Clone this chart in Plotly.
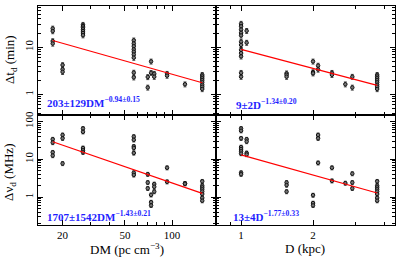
import plotly.graph_objects as go

# ---------------- data ----------------
# Delta t_d (min) versus DM (pc cm^-3)
dm_t_x = [17.3]*4 + [20]*3 + [27]*7 + [57]*9 + [70]*2 + [73.5]*2 + [77]*2 + [93]*2 + [121] + [156]*8
dm_t_y = [25, 22, 13.5, 12,
          4.2, 3.4, 3.0,
          30, 28, 26, 24, 22, 20, 18,
          14, 12, 10.5, 9, 8, 7, 6, 2.9, 2.3,
          2.34, 1.4,
          5.0, 2.87,
          2.74, 2.37,
          2.74, 2.5,
          1.64,
          2.6, 2.4, 2.2, 2.0, 1.8, 1.6, 1.45, 1.3]

# Delta nu_d (MHz) versus DM
dm_nu_x = [17.3]*4 + [20]*3 + [27]*5 + [57]*7 + [70]*3 + [73.5]*3 + [77]*3 + [93]*2 + [121]*2 + [156]*8
dm_nu_y = [33.7, 27.6, 15.2, 12.5,
           43.8, 35.7, 7.7,
           65, 53, 19.8, 17.2, 15.2,
           39.6, 32.5, 21.8, 19.8, 14.6, 4.4, 3.84,
           4.0, 2.42, 1.69,
           1.14, 0.73, 0.60,
           2.2, 1.87, 1.39,
           5.95, 2.53,
           2.28, 2.25,
           2.6, 2.0, 1.8, 1.6, 1.4, 1.2, 0.95, 0.8]

# Delta t_d (min) versus D (kpc)
d_t_x = [1.0]*12 + [1.055]*2 + [1.55]*3 + [2.0]*3 + [2.1]*2 + [2.4]*2 + [2.73] + [2.92]*2 + [3.71]*8
d_t_y = [31.6, 27.8, 23.7, 20.2, 17.8, 13.1, 11.2, 8.8, 7.5, 6.4, 2.87, 2.37,
         22.3, 12.5,
         2.8, 2.6, 2.37,
         5.0, 2.97, 2.8,
         4.08, 3.37,
         2.87, 2.6,
         1.64,
         2.37, 1.4,
         2.6, 2.4, 2.2, 2.0, 1.8, 1.6, 1.45, 1.3]

# Delta nu_d (MHz) versus D
d_nu_x = [1.0]*9 + [1.055]*4 + [1.55]*3 + [2.0]*3 + [2.1]*3 + [2.4]*2 + [2.73] + [2.92]*3 + [3.71]*8
d_nu_y = [65, 56.6, 35.7, 20.9, 18.5, 16.2, 14.1, 4.4, 4.0,
          33.7, 29.3, 14.6, 13.3,
          2.42, 2.07, 1.39,
          1.12, 0.69, 0.60,
          43.8, 35.7, 8.0,
          5.95, 2.68,
          2.33,
          4.15, 2.42, 1.69,
          2.6, 2.0, 1.8, 1.6, 1.4, 1.2, 0.95, 0.8]

# power-law fits: amplitude, exponent
fit_dm_t = (203, -0.94)
fit_dm_nu = (1707, -1.43)
fit_d_t = (9, -1.34)
fit_d_nu = (13, -1.77)

fit_labels = ["203±129DM<sup>−0.94±0.15</sup>", "9±2D<sup>−1.34±0.20</sup>",
              "1707±1542DM<sup>−1.43±0.21</sup>", "13±4D<sup>−1.77±0.33</sup>"]

# ---------------- figure ----------------
W, H = 399, 259
L, R, T, B = 38, 4, 2, 34
PW, PH = W - L - R, H - T - B
xsplit = (216 - L) / PW
ysplit = (225 - 113) / PH

def px(x):
    return (x - L) / PW

def py(y):
    return (H - B - y) / PH

fig = go.Figure()

panels = [
    (dm_t_x, dm_t_y, fit_dm_t, "x", "y"),
    (d_t_x, d_t_y, fit_d_t, "x2", "y2"),
    (dm_nu_x, dm_nu_y, fit_dm_nu, "x3", "y3"),
    (d_nu_x, d_nu_y, fit_d_nu, "x4", "y4"),
]
for xs, ys, (a, b), xa, ya in panels:
    fig.add_trace(go.Scatter(
        x=xs, y=ys, mode="markers", xaxis=xa, yaxis=ya,
        marker=dict(symbol="circle", size=3.5, color="#777777",
                    line=dict(color="#111111", width=1)),
        error_y=dict(type="percent", value=12, color="#222222", thickness=0.8, width=1.5),
        showlegend=False))
    x0, x1 = min(xs), max(xs)
    fig.add_trace(go.Scatter(
        x=[x0, x1], y=[a * x0 ** b, a * x1 ** b], mode="lines",
        xaxis=xa, yaxis=ya, line=dict(color="red", width=1.2), showlegend=False))

font = dict(family="Liberation Serif, DejaVu Serif, serif", size=11, color="black")

common = dict(type="log", showline=True, linecolor="black", linewidth=1, mirror="allticks",
              ticks="inside", ticklen=5, tickcolor="black", showgrid=False, zeroline=False,
              tickfont=font)

dm_range = [1.144, 2.281]
d_range = [-0.105, 0.644]
t_range = [-0.4375, 1.875]
nu_range = [-0.74, 2.169]

dm_minor = dict(ticks="inside", ticklen=3, tickcolor="black",
                tickvals=[30, 40, 60, 70, 80, 90])
d_minor = dict(ticks="inside", ticklen=3, tickcolor="black", tickvals=[0.9, 3, 4])
y_minor = dict(ticks="inside", ticklen=3, tickcolor="black",
               tickvals=[0.2, 0.3, 0.4, 0.5, 0.6, 0.7, 0.8, 0.9, 2, 3, 4, 5, 6, 7, 8, 9,
                         20, 30, 40, 50, 60, 70, 80, 90])

fig.update_layout(
    width=W, height=H, margin=dict(l=L, r=R, t=T, b=B),
    paper_bgcolor="white", plot_bgcolor="white",
    xaxis=dict(common, domain=[0, xsplit], range=dm_range, anchor="y",
               tickvals=[20, 50, 100], showticklabels=False, minor=dm_minor),
    xaxis2=dict(common, domain=[xsplit, 1], range=d_range, anchor="y2",
                tickvals=[1, 2], showticklabels=False, minor=d_minor),
    xaxis3=dict(common, domain=[0, xsplit], range=dm_range, anchor="y3",
                tickvals=[20, 50, 100], ticktext=["20", "50", "100"], minor=dm_minor),
    xaxis4=dict(common, domain=[xsplit, 1], range=d_range, anchor="y4",
                tickvals=[1, 2], ticktext=["1", "2"], minor=d_minor),
    yaxis=dict(common, domain=[ysplit, 1], range=t_range, anchor="x",
               tickvals=[1, 10], ticktext=["1", "10"], tickangle=-90, minor=y_minor),
    yaxis2=dict(common, domain=[ysplit, 1], range=t_range, anchor="x2",
                tickvals=[1, 10], showticklabels=False, minor=y_minor),
    yaxis3=dict(common, domain=[0, ysplit], range=nu_range, anchor="x3",
                tickvals=[1, 10, 100], ticktext=["1", "10", "100"], tickangle=-90, minor=y_minor),
    yaxis4=dict(common, domain=[0, ysplit], range=nu_range, anchor="x4",
                tickvals=[1, 10, 100], showticklabels=False, minor=y_minor),
)

blue = dict(family="Liberation Serif, DejaVu Serif, serif", size=11, color="#1f1fff")
label_pos = [(45, 100), (234, 102), (45, 216), (231, 216)]
for txt, (lx, ly) in zip(fit_labels, label_pos):
    fig.add_annotation(text="<b>" + txt + "</b>", xref="paper", yref="paper",
                       x=px(lx), y=py(ly), xanchor="left", yanchor="middle",
                       showarrow=False, font=blue)

title_font = dict(family="Liberation Serif, DejaVu Serif, serif", size=13, color="black")
fig.add_annotation(text="Δt<sub>d</sub> (min)", xref="paper", yref="paper",
                   x=px(10), y=py(57), textangle=-90, showarrow=False, font=title_font,
                   xanchor="center", yanchor="middle")
fig.add_annotation(text="Δν<sub>d</sub> (MHz)", xref="paper", yref="paper",
                   x=px(10), y=py(172), textangle=-90, showarrow=False, font=title_font,
                   xanchor="center", yanchor="middle")
fig.add_annotation(text="DM (pc cm<sup>−3</sup>)", xref="paper", yref="paper",
                   x=px(127), y=py(249), showarrow=False, font=title_font,
                   xanchor="center", yanchor="middle")
fig.add_annotation(text="D (kpc)", xref="paper", yref="paper",
                   x=px(305), y=py(249), showarrow=False, font=title_font,
                   xanchor="center", yanchor="middle")

fig.write_html("out.html", config={"displayModeBar": False},
               post_script="document.body.style.margin='0';")
